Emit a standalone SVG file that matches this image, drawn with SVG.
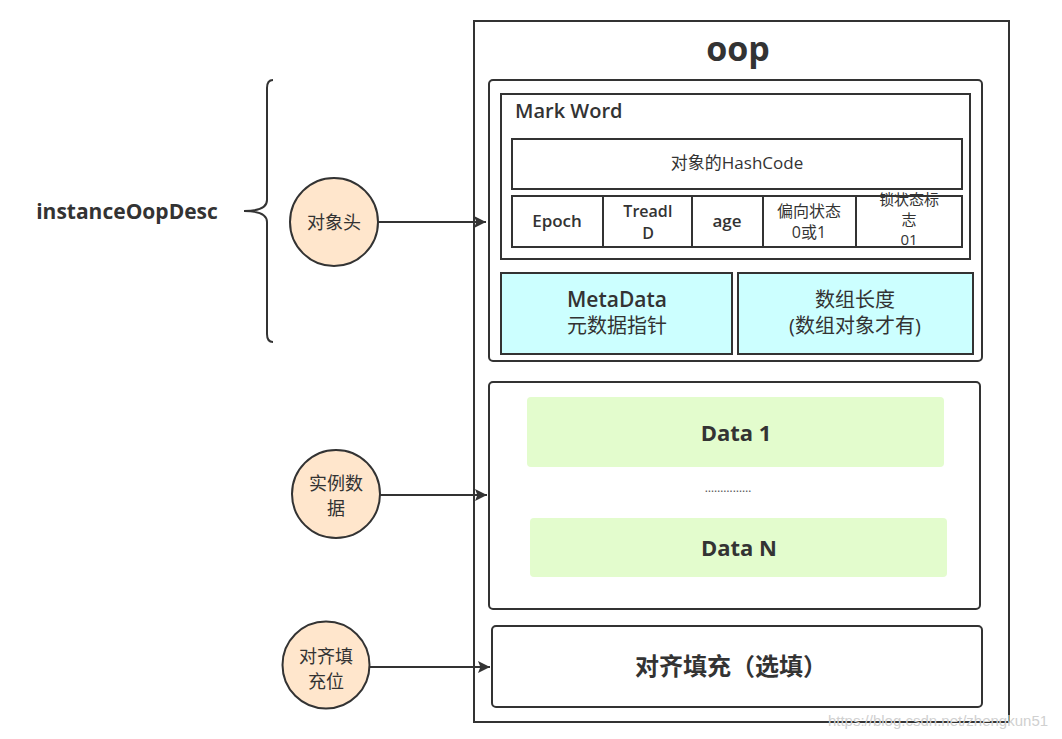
<svg xmlns="http://www.w3.org/2000/svg" width="1062" height="739" viewBox="0 0 1062 739">
<style>
text{font-family:"Open Sans","Noto Sans CJK SC",sans-serif;fill:#333;text-anchor:middle}
.b{font-weight:bold}
.box{fill:#fff;stroke:#333;stroke-width:2}
.cell{fill:none;stroke:#333;stroke-width:2}
.cyan{fill:#ccffff;stroke:#333;stroke-width:2}
.green{fill:#e3fccd;stroke:none}
.circ{fill:#ffe6cc;stroke:#333;stroke-width:2}
.conn{stroke:#333;stroke-width:2;fill:none}
</style>
<defs>
<marker id="ah" viewBox="0 0 10 10" refX="10" refY="5" markerWidth="6" markerHeight="6" orient="auto" markerUnits="strokeWidth">
<path d="M0,0 L10,5 L0,10 L2,5 z" fill="#333"/>
</marker>
</defs>
<rect width="1062" height="739" fill="#fff"/>

<g id="oop">
<rect class="box" x="474" y="21" width="535" height="701"/>
<text class="b" x="738" y="61" font-size="34">oop</text>
</g>

<g id="header">
<rect class="box" x="489" y="80" width="493" height="281" rx="4"/>
</g>

<g id="markword">
<rect class="box" x="501" y="94" width="469" height="165"/>
<text x="515" y="118" font-size="20" font-weight="600" style="text-anchor:start">Mark Word</text>
<rect class="cell" x="512" y="139" width="450" height="50"/>
<text x="737" y="169" font-size="17">对象的HashCode</text>
<rect class="cell" x="512" y="196" width="450" height="51"/>
<line class="cell" x1="603" y1="196" x2="603" y2="247"/>
<line class="cell" x1="692" y1="196" x2="692" y2="247"/>
<line class="cell" x1="763" y1="196" x2="763" y2="247"/>
<line class="cell" x1="856" y1="196" x2="856" y2="247"/>
<text x="557" y="227" font-size="17" font-weight="600">Epoch</text>
<text x="648" y="217" font-size="16" font-weight="600">TreadI</text>
<text x="648" y="239" font-size="16" font-weight="600">D</text>
<text x="727" y="227" font-size="17" font-weight="600">age</text>
<text x="809" y="217" font-size="16">偏向状态</text>
<text x="809" y="238" font-size="16">0或1</text>
<text x="909" y="205" font-size="15">锁状态标</text>
<text x="909" y="225" font-size="15">志</text>
<text x="909" y="245" font-size="15">01</text>
</g>

<g id="metadata">
<rect class="cyan" x="501" y="273" width="231" height="81"/>
<text x="617" y="307" font-size="21" font-weight="600">MetaData</text>
<text x="617" y="333" font-size="20">元数据指针</text>
</g>

<g id="arraylen">
<rect class="cyan" x="738" y="273" width="235" height="81"/>
<text x="855" y="307" font-size="20">数组长度</text>
<text x="855" y="333" font-size="20">(数组对象才有)</text>
</g>

<g id="instancedata">
<rect class="box" x="489" y="382" width="491" height="227" rx="4"/>
<rect class="green" x="527" y="397" width="417" height="70" rx="4"/>
<text class="b" x="736" y="441" font-size="22">Data 1</text>
<text x="728" y="492" font-size="12" style="fill:#555">……………</text>
<rect class="green" x="530" y="518" width="417" height="59" rx="4"/>
<text class="b" x="739" y="556" font-size="22">Data N</text>
</g>

<g id="padding">
<rect class="box" x="492" y="626" width="490" height="81" rx="4"/>
<text class="b" x="731" y="675" font-size="24">对齐填充（选填）</text>
</g>

<g id="brace">
<path class="conn" d="M273,80 Q267,80 267,88 L267,200 Q267,211 244,211 Q267,211 267,222 L267,334 Q267,342 273,342"/>
<text class="b" x="127" y="219" font-size="21">instanceOopDesc</text>
</g>

<g id="c-header">
<circle class="circ" cx="334" cy="222" r="44"/>
<text x="334" y="229" font-size="18">对象头</text>
</g>
<g id="c-data">
<circle class="circ" cx="336" cy="494" r="44"/>
<text x="336" y="490" font-size="18">实例数</text>
<text x="336" y="515" font-size="18">据</text>
</g>
<g id="c-pad">
<circle class="circ" cx="326" cy="665" r="43.5"/>
<text x="326" y="663" font-size="18">对齐填</text>
<text x="326" y="688" font-size="18">充位</text>
</g>

<g id="connectors">
<line class="conn" x1="378" y1="222" x2="486" y2="222" marker-end="url(#ah)"/>
<line class="conn" x1="380" y1="495" x2="487" y2="495" marker-end="url(#ah)"/>
<line class="conn" x1="370" y1="667" x2="490" y2="667" marker-end="url(#ah)"/>
</g>

<text x="938" y="726" font-size="15" style="fill:#d0d0d0;font-family:'Liberation Sans',sans-serif">https://blog.csdn.net/zhengkun51</text>
</svg>
